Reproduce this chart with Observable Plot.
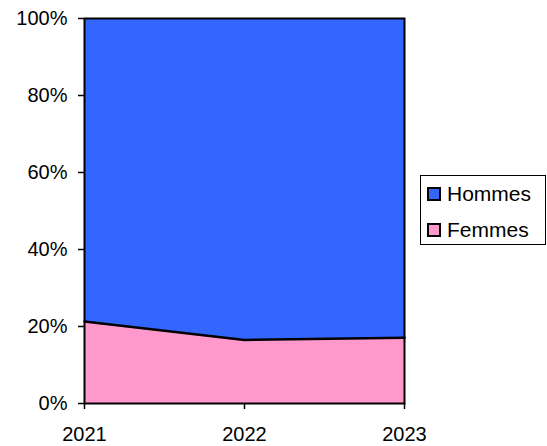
<!DOCTYPE html>
<html>
<head>
<meta charset="utf-8">
<script src="https://cdn.jsdelivr.net/npm/d3@7"></script>
<script src="https://cdn.jsdelivr.net/npm/@observablehq/plot@0.6"></script>
<style>
  html, body { margin: 0; padding: 0; background: #fff; }
  #wrap { position: relative; width: 547px; height: 446px; font-family: "Liberation Sans", Arial, sans-serif; }
  #legend { position: absolute; left: 420px; top: 175px; width: 126px; height: 70px; border: 1px solid #000; background: #fff; box-sizing: border-box; }
  .item { position: absolute; left: 6px; font-size: 21px; line-height: 21px; height: 21px; color: #000; display: flex; align-items: center; }
  .sw { width: 10px; height: 10px; border: 2px solid #000; margin-right: 6px; }
</style>
</head>
<body>
<div id="wrap"></div>
<script>
const years = [2021, 2022, 2023];
const series = ["Hommes", "Femmes"];
const femmes = [21.3, 16.5, 17.1];
const hommes = [78.7, 83.5, 82.9];
const colors = ["#3366FF", "#FF99CC"];
const yTicks = [0, 20, 40, 60, 80, 100];

const data = [];
years.forEach((yr, i) => {
  data.push({year: yr, series: "Femmes", value: femmes[i]});
  data.push({year: yr, series: "Hommes", value: hommes[i]});
});
const fdata = years.map((yr, i) => ({year: yr, value: femmes[i]}));

const chart = Plot.plot({
  width: 547,
  height: 446,
  marginLeft: 84,
  marginRight: 143,
  marginTop: 18,
  marginBottom: 43,
  style: {fontFamily: "'Liberation Sans', Arial, sans-serif", fontSize: "20px", color: "#000", background: "#fff"},
  x: {domain: [2021, 2023], label: null},
  y: {domain: [0, 100], label: null},
  color: {domain: series, range: colors},
  marks: [
    Plot.areaY(data, {x: "year", y: "value", fill: "series", order: ["Femmes", "Hommes"], fillOpacity: 1}),
    Plot.lineY(fdata, {x: "year", y: "value", stroke: "#000", strokeWidth: 2.5}),
    Plot.frame({stroke: "#000", strokeWidth: 2}),
    Plot.axisX({ticks: years, tickFormat: d => String(d), tickSize: 6, tickPadding: 17, fontSize: 20, stroke: "#000", strokeWidth: 1.5}),
    Plot.axisY({ticks: yTicks, tickFormat: d => d + "%", tickSize: 6, tickPadding: 11, fontSize: 20, stroke: "#000", strokeWidth: 1.5})
  ]
});
const wrap = document.getElementById("wrap");
wrap.appendChild(chart);

const legend = document.createElement("div");
legend.id = "legend";
series.forEach((s, i) => {
  const it = document.createElement("div");
  it.className = "item";
  it.style.top = (7 + i * 36) + "px";
  const sw = document.createElement("span");
  sw.className = "sw";
  sw.style.background = colors[i];
  const t = document.createElement("span");
  t.textContent = s;
  it.appendChild(sw);
  it.appendChild(t);
  legend.appendChild(it);
});
wrap.appendChild(legend);
</script>
</body>
</html>
